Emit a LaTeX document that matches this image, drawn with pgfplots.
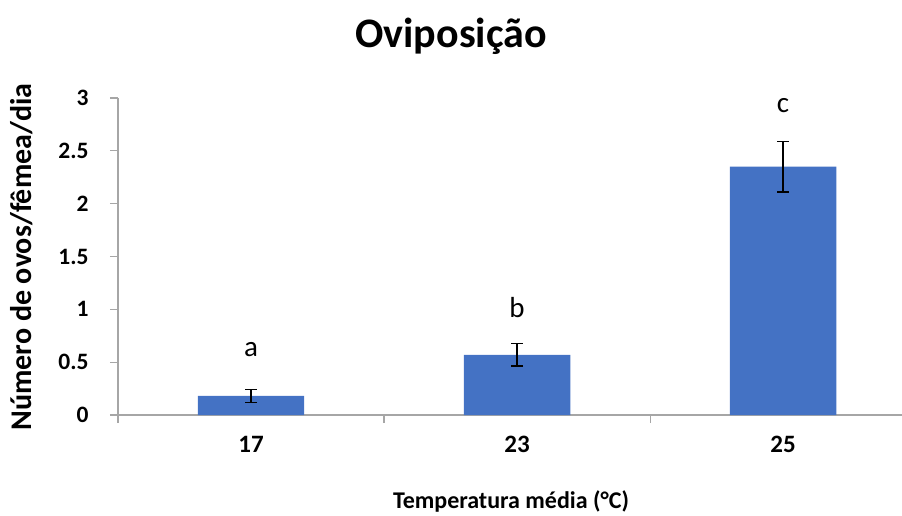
\documentclass[border=0pt]{standalone}
\usepackage{pgfplots}
\pgfplotsset{compat=1.18}
\usepackage{fontspec}
\setmainfont{Carlito}
\definecolor{barblue}{HTML}{4472C4}
\definecolor{axgray}{HTML}{A6A6A6}
\begin{document}
\begin{tikzpicture}[x=1pt,y=1pt]
\useasboundingbox (-118,-100) rectangle (784,415);
\begin{axis}[
  at={(0,0)}, anchor=south west,
  scale only axis,
  width=784pt, height=317pt,
  xmin=-0.5, xmax=2.447,
  ymin=0, ymax=3,
  axis x line=bottom, axis y line=left,
  axis line style={-, draw=axgray, line width=1.1pt},
  xtick={0,1,2},
  xticklabels={17,23,25},
  major x tick style={draw=none},
  minor xtick={-0.5,0.5,1.5},
  minor x tick style={draw=axgray, line width=1.1pt},
  minor tick length=8pt,
  ytick={0,0.5,1,1.5,2,2.5,3},
  yticklabels={0,0.5,1,1.5,2,2.5,3},
  major y tick style={draw=axgray, line width=1.1pt},
  major tick length=8pt,
  tick align=outside,
  /pgf/number format/assume math mode=true,
  xticklabel style={font=\fontsize{25}{30}\selectfont\bfseries, yshift=-10pt},
  yticklabel style={font=\fontsize{23.5}{28}\selectfont\bfseries, anchor=east, xshift=-18pt},
  ybar, bar width=0.4,
  clip=false,
]
\addplot[fill=barblue, draw=none,
  error bars/.cd, y dir=both, y explicit,
  error bar style={black, line width=1.3pt},
  error mark options={rotate=90, black, line width=1.3pt, mark size=6pt}]
  coordinates {(0,0.18) +- (0,0.06) (1,0.57) +- (0,0.105) (2,2.35) +- (0,0.24)};
% significance letters
\node[font=\fontsize{29}{34}\selectfont, anchor=base] at (axis cs:0,0.55) {a};
\node[font=\fontsize{29}{34}\selectfont, anchor=base] at (axis cs:1,0.92) {b};
\node[font=\fontsize{29}{34}\selectfont, anchor=base] at (axis cs:2,2.86) {c};
\end{axis}
\node[font=\fontsize{42}{50}\selectfont\bfseries, anchor=base] at (333,367) {Oviposição};
\node[font=\fontsize{24}{29}\selectfont\bfseries, anchor=base] at (393,-93) {Temperatura média (°C)};
\node[font=\fontsize{30}{36}\selectfont\bfseries, anchor=base, rotate=90] at (-86,158) {Número de ovos/fêmea/dia};
\end{tikzpicture}
\end{document}
